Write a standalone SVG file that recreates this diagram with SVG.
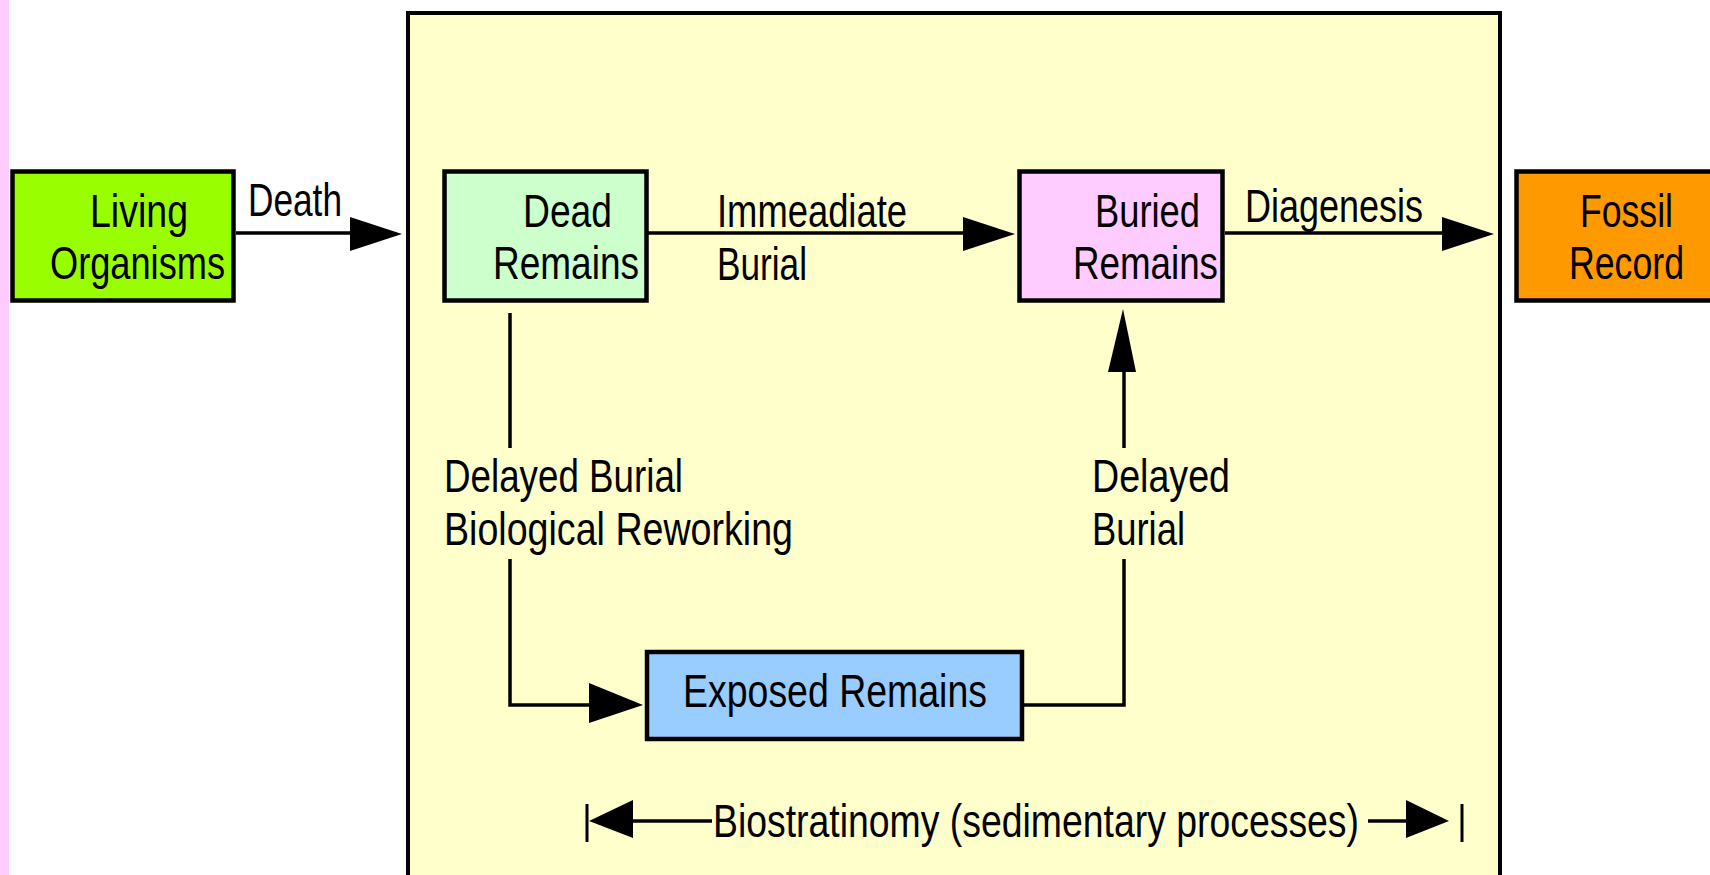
<svg xmlns="http://www.w3.org/2000/svg" width="1710" height="875" viewBox="0 0 1710 875">
<defs>
<style>
.t{font-family:"Liberation Sans",Arial,sans-serif;font-size:46px;fill:#000}
.box{stroke:#000;stroke-width:4.5}
.ln{stroke:#000;stroke-width:3.5;fill:none}
.ah{fill:#000}
</style>
</defs>
<rect x="0" y="0" width="1710" height="875" fill="#ffffff"/>
<rect x="0" y="0" width="9" height="875" fill="#ffccff"/>
<g id="biostratinomy-frame">
<rect x="408" y="13" width="1092" height="900" fill="#ffffcc" stroke="#000" stroke-width="4"/>
</g>
<g id="living-organisms">
<rect class="box" x="12.5" y="171.5" width="221" height="129" fill="#99ff00"/>
<text class="t" x="90" y="227" textLength="98" lengthAdjust="spacingAndGlyphs">Living</text>
<text class="t" x="50" y="279" textLength="175" lengthAdjust="spacingAndGlyphs">Organisms</text>
</g>
<g id="dead-remains">
<rect class="box" x="444.5" y="171.5" width="202" height="129" fill="#ccffcc"/>
<text class="t" x="523" y="227" textLength="89" lengthAdjust="spacingAndGlyphs">Dead</text>
<text class="t" x="493" y="279" textLength="146" lengthAdjust="spacingAndGlyphs">Remains</text>
</g>
<g id="buried-remains">
<rect class="box" x="1019.5" y="171.5" width="203" height="129" fill="#ffccff"/>
<text class="t" x="1095" y="227" textLength="105" lengthAdjust="spacingAndGlyphs">Buried</text>
<text class="t" x="1073" y="279" textLength="145" lengthAdjust="spacingAndGlyphs">Remains</text>
</g>
<g id="fossil-record">
<rect x="1516.5" y="171.5" width="193.5" height="129" fill="#ff9900"/>
<path d="M1710,171.5 H1516.5 V300.5 H1710" fill="none" stroke="#000" stroke-width="4.5"/>
<text class="t" x="1580" y="227" textLength="93" lengthAdjust="spacingAndGlyphs">Fossil</text>
<text class="t" x="1569" y="279" textLength="115" lengthAdjust="spacingAndGlyphs">Record</text>
</g>
<g id="exposed-remains">
<rect class="box" x="647" y="652" width="375" height="87" fill="#99ccff"/>
<text class="t" x="683" y="707" textLength="304" lengthAdjust="spacingAndGlyphs">Exposed Remains</text>
</g>
<g id="connectors">
<line class="ln" x1="236" y1="233" x2="352" y2="233"/>
<polygon class="ah" points="350,217 350,251 402,234"/>
<line class="ln" x1="648" y1="233" x2="965" y2="233"/>
<polygon class="ah" points="963,217 963,251 1015,234"/>
<line class="ln" x1="1225" y1="233" x2="1444" y2="233"/>
<polygon class="ah" points="1442,217 1442,251 1494,234"/>
<line class="ln" x1="510" y1="313" x2="510" y2="448"/>
<polyline class="ln" points="510,559 510,705 591,705"/>
<polygon class="ah" points="589,683 589,723 643,705"/>
<polyline class="ln" points="1024,705 1124,705 1124,559"/>
<line class="ln" x1="1124" y1="448" x2="1124" y2="370"/>
<polygon class="ah" points="1108,372 1136,372 1123,309"/>
<line class="ln" x1="587" y1="804" x2="587" y2="842" style="stroke-width:3"/>
<polygon class="ah" points="633,800 633,838 589,821"/>
<line class="ln" x1="631" y1="821" x2="712" y2="821"/>
<line class="ln" x1="1368" y1="821" x2="1410" y2="821"/>
<polygon class="ah" points="1406,800 1406,838 1449,821"/>
<line class="ln" x1="1462" y1="804" x2="1462" y2="842" style="stroke-width:3"/>
</g>
<g id="edge-labels">
<text class="t" x="248" y="216" textLength="94" lengthAdjust="spacingAndGlyphs">Death</text>
<text class="t" x="717" y="227" textLength="190" lengthAdjust="spacingAndGlyphs">Immeadiate</text>
<text class="t" x="717" y="280" textLength="90" lengthAdjust="spacingAndGlyphs">Burial</text>
<text class="t" x="1245" y="222" textLength="178" lengthAdjust="spacingAndGlyphs">Diagenesis</text>
<text class="t" x="444" y="492" textLength="239" lengthAdjust="spacingAndGlyphs">Delayed Burial</text>
<text class="t" x="444" y="545" textLength="349" lengthAdjust="spacingAndGlyphs">Biological Reworking</text>
<text class="t" x="1092" y="492" textLength="138" lengthAdjust="spacingAndGlyphs">Delayed</text>
<text class="t" x="1092" y="545" textLength="93" lengthAdjust="spacingAndGlyphs">Burial</text>
<text class="t" x="713" y="837" textLength="646" lengthAdjust="spacingAndGlyphs">Biostratinomy (sedimentary processes)</text>
</g>
</svg>
